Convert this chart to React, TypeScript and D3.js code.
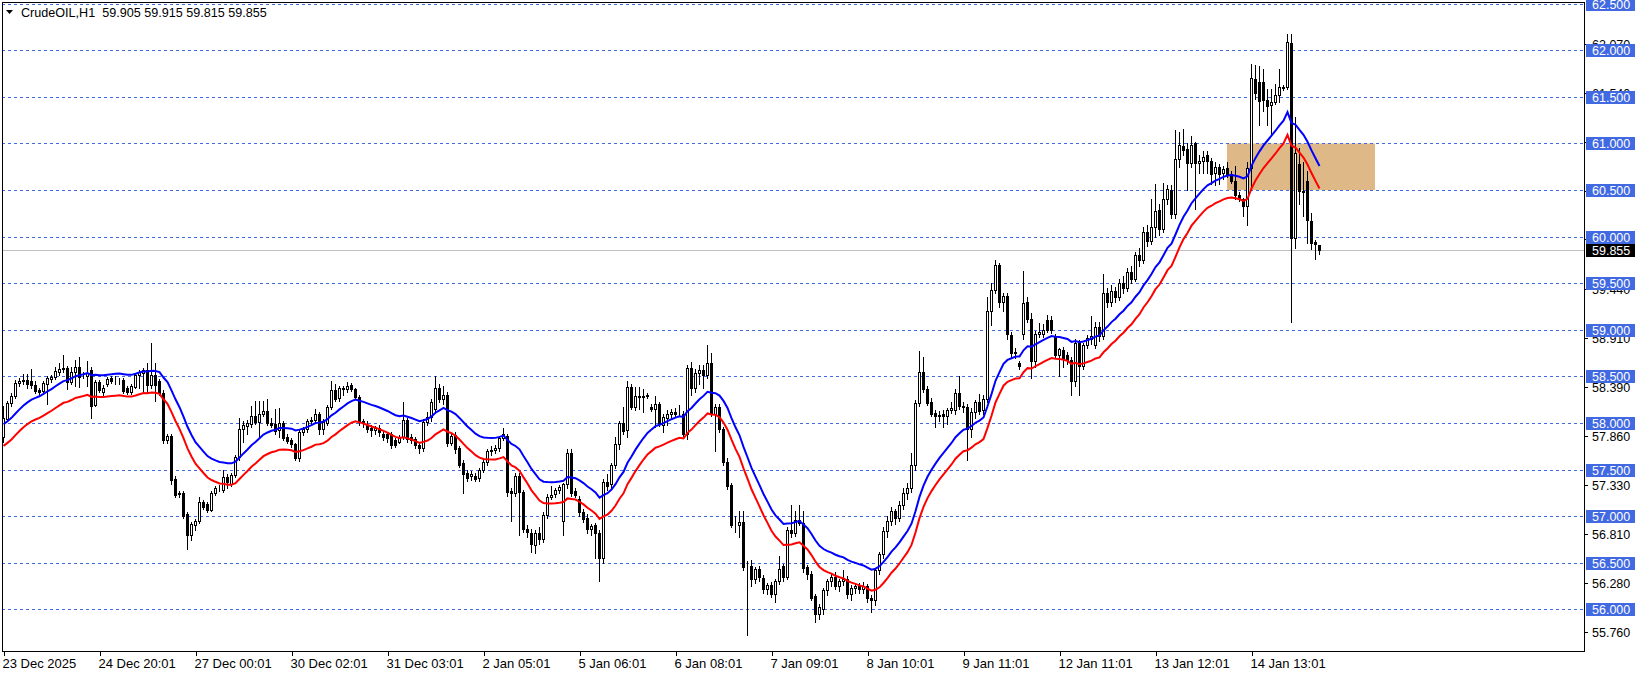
import React from "react";
import * as d3 from "d3";

type C = [number, number, number, number]; // open, high, low, close

const candlesDec23: C[] = [
  [57.85,58.18,57.80,58.05],[58.04,58.24,58.02,58.21],[58.21,58.32,58.18,58.29],[58.29,58.46,58.27,58.43],
  [58.43,58.48,58.40,58.45],[58.45,58.53,58.42,58.46],[58.46,58.53,58.38,58.42],[58.45,58.58,58.38,58.41],
  [58.41,58.45,58.32,58.34],[58.35,58.38,58.30,58.33],[58.34,58.45,58.31,58.43],[58.42,58.50,58.20,58.48],
  [58.47,58.52,58.44,58.49],[58.49,58.60,58.47,58.56],[58.55,58.64,58.52,58.58],[58.58,58.73,58.55,58.59],
  [58.59,58.61,58.36,58.44],[58.44,58.60,58.42,58.55],[58.55,58.68,58.40,58.60],[58.60,58.71,58.39,58.49],
  [58.52,58.55,58.48,58.51],[58.50,58.67,58.40,58.54],[58.57,58.60,58.05,58.18],[58.19,58.46,58.18,58.44],
  [58.44,58.46,58.33,58.35],[58.33,58.41,58.30,58.38],[58.42,58.49,58.40,58.47],[58.48,58.50,58.43,58.45],
  [58.45,58.50,58.42,58.45],[58.45,58.48,58.42,58.45],[58.46,58.48,58.32,58.34],[58.38,58.40,58.31,58.33],
  [58.33,58.42,58.31,58.40],[58.39,58.54,58.37,58.52],[58.52,58.57,58.38,58.55],[58.54,58.59,58.32,58.57],
  [58.57,58.64,58.32,58.41],[58.41,58.86,58.38,58.52],[58.52,58.64,58.24,58.41],[58.45,58.47,58.30,58.32],
  [58.32,58.35,57.79,57.82],[57.82,57.88,57.78,57.86],[57.86,57.88,57.35,57.39],[57.40,57.43,57.20,57.23],
  [57.24,57.27,57.21,57.25],[57.25,57.27,56.98,57.00],[57.02,57.04,56.65,56.80],[56.80,56.94,56.74,56.92],
  [56.90,56.97,56.85,56.95],[56.95,57.20,56.93,57.15],[57.15,57.17,57.08,57.10],[57.13,57.15,57.04,57.07],
  [57.07,57.27,57.05,57.25],[57.25,57.32,57.23,57.30],[57.30,57.33,57.27,57.30],[57.28,57.50,57.26,57.42],
];

const candlesDec29: C[] = [
  [57.42,57.45,57.30,57.37],[57.35,57.46,57.32,57.44],[57.44,57.66,57.42,57.63],[57.63,58.05,57.60,57.94],
  [57.94,58.02,57.80,57.98],[57.97,58.03,57.88,58.00],[57.99,58.18,57.96,58.08],[58.08,58.24,57.99,58.01],
  [58.01,58.24,57.85,58.10],[58.10,58.24,58.08,58.13],[58.13,58.26,57.98,58.00],[58.00,58.05,57.96,57.98],
  [57.99,58.15,57.88,57.91],[57.92,58.16,57.85,58.00],[58.00,58.02,57.82,57.84],[57.85,57.88,57.78,57.81],
  [57.82,57.84,57.74,57.77],[57.77,57.79,57.60,57.62],[57.62,57.94,57.59,57.90],[57.90,57.96,57.87,57.93],
  [57.93,58.04,57.90,58.02],[58.02,58.06,57.99,58.03],[58.03,58.15,58.00,58.10],[58.10,58.12,57.88,57.93],
  [57.93,58.04,57.88,58.01],[58.00,58.19,57.98,58.17],[58.17,58.45,58.15,58.35],[58.35,58.42,58.24,58.26],
  [58.27,58.40,58.24,58.37],[58.37,58.40,58.30,58.36],[58.36,58.44,58.33,58.40],[58.41,58.43,58.34,58.36],
  [58.36,58.38,58.26,58.28],[58.28,58.30,57.98,58.01],[58.02,58.04,57.96,58.00],[57.98,58.02,57.90,57.94],
  [57.95,57.98,57.86,57.92],[57.92,57.97,57.88,57.95],[57.95,57.98,57.86,57.90],[57.88,57.91,57.82,57.85],
  [57.88,57.90,57.80,57.84],[57.88,57.90,57.73,57.76],[57.82,57.84,57.74,57.76],[57.80,57.87,57.78,57.85],
  [57.85,58.23,57.83,58.03],[58.03,58.05,57.80,57.83],[57.85,57.88,57.78,57.82],[57.83,57.85,57.73,57.76],
  [57.76,57.78,57.68,57.73],[57.73,58.04,57.70,58.01],[58.01,58.12,57.98,58.06],[58.06,58.26,58.02,58.22],
  [58.15,58.50,58.12,58.37],[58.37,58.42,58.22,58.26],
];

const candlesJan2: C[] = [
  [58.26,58.40,58.20,58.30],[58.30,58.33,57.75,57.79],[57.79,57.89,57.76,57.86],[57.87,57.90,57.68,57.72],
  [57.73,57.75,57.53,57.55],[57.57,57.60,57.25,57.45],[57.46,57.49,57.38,57.41],[57.43,57.48,57.39,57.45],
  [57.43,57.46,57.38,57.40],[57.41,57.52,57.38,57.50],[57.50,57.60,57.47,57.58],[57.58,57.72,57.55,57.70],
  [57.70,57.75,57.66,57.71],[57.71,57.76,57.68,57.73],[57.73,57.86,57.70,57.84],[57.84,57.95,57.82,57.88],
  [57.86,57.88,57.22,57.26],[57.27,57.30,56.95,57.25],[57.25,57.46,57.22,57.43],[57.43,57.46,56.80,57.26],
  [57.26,57.28,56.83,56.86],[56.86,56.90,56.78,56.83],[56.82,56.86,56.62,56.70],[56.69,56.85,56.60,56.82],
  [56.82,56.88,56.70,56.75],[56.75,57.04,56.72,57.01],[57.01,57.24,56.98,57.21],[57.20,57.32,57.18,57.23],
  [57.24,57.30,57.20,57.28],[57.28,57.33,57.25,57.31],[56.95,57.36,56.80,57.34],[57.34,57.72,57.30,57.68],
  [57.68,57.72,57.22,57.25],[57.27,57.30,57.20,57.23],[57.18,57.22,57.00,57.04],[57.04,57.08,56.94,56.97],
  [56.98,57.02,56.82,56.86],[56.86,56.92,56.80,56.89],[56.90,56.93,56.55,56.82],[56.82,56.85,56.30,56.55],
  [56.55,57.40,56.50,57.37],[57.37,57.45,57.28,57.32],[57.35,57.57,57.30,57.55],[57.55,57.85,57.52,57.77],
  [57.77,58.02,57.72,58.00],[58.00,58.17,57.88,57.91],[57.92,58.45,57.85,58.39],[58.39,58.42,58.15,58.17],
  [58.17,58.39,58.14,58.29],[58.29,58.39,58.15,58.28],[58.28,58.36,58.12,58.29],[58.29,58.32,58.27,58.30],
  [58.17,58.20,58.13,58.15],[58.15,58.29,57.96,58.20],[58.20,58.22,57.97,58.00],[57.98,58.10,57.90,58.06],
];

const candlesJan6: C[] = [
  [58.05,58.14,57.98,58.10],[58.10,58.15,58.05,58.12],[58.12,58.16,58.06,58.10],[58.10,58.19,58.07,58.10],
  [58.10,58.13,57.86,57.88],[57.88,58.62,57.83,58.59],[58.59,58.65,58.30,58.38],[58.38,58.58,58.33,58.54],
  [58.54,58.62,58.42,58.57],[58.57,58.62,58.38,58.52],[58.52,58.84,58.48,58.64],[58.64,58.75,58.08,58.10],
  [58.10,58.20,57.70,58.17],[58.17,58.20,57.90,57.93],[57.93,57.96,57.55,57.58],[57.58,57.62,57.29,57.32],
  [57.33,57.36,56.88,56.91],[56.91,57.00,56.83,56.90],[56.90,57.05,56.78,56.94],[56.94,57.05,56.42,56.45],
  [56.46,56.52,55.72,56.46],[56.46,56.53,56.25,56.32],[56.32,56.45,56.28,56.43],[56.43,56.46,56.30,56.35],
  [56.34,56.37,56.18,56.22],[56.22,56.28,56.16,56.26],[56.26,56.29,56.13,56.16],[56.16,56.32,56.08,56.30],
  [56.30,56.57,56.27,56.43],[56.46,56.49,56.30,56.35],[56.35,56.88,56.32,56.85],[56.85,57.12,56.78,56.82],
  [56.82,57.05,56.79,56.96],[56.96,57.12,56.90,56.93],[56.93,57.05,56.40,56.44],[56.45,56.48,56.32,56.38],
  [56.38,56.41,56.10,56.12],[56.14,56.16,55.86,55.95],[55.95,56.06,55.90,56.03],[56.00,56.23,55.95,56.21],
  [56.21,56.33,56.15,56.30],[56.30,56.38,56.25,56.35],[56.35,56.40,56.22,56.25],[56.25,56.32,56.20,56.30],
  [56.30,56.42,56.26,56.33],[56.33,56.36,56.12,56.16],[56.16,56.26,56.10,56.23],[56.23,56.28,56.18,56.25],
  [56.25,56.28,56.17,56.22],[56.22,56.29,56.18,56.25],[56.25,56.27,56.08,56.12],[56.12,56.15,55.97,56.10],
  [56.10,56.44,56.05,56.42],[56.42,56.62,56.38,56.59],[56.59,56.88,56.55,56.84],
];

const candlesJan8: C[] = [
  [56.84,57.00,56.78,56.95],[56.95,57.10,56.90,57.05],[57.05,57.08,56.92,56.98],[56.98,57.16,56.95,57.12],
  [57.12,57.30,57.08,57.25],[57.25,57.36,57.18,57.30],[57.30,57.68,57.26,57.55],[57.55,58.25,57.50,58.21],
  [58.21,58.77,58.18,58.55],[58.55,58.71,58.33,58.36],[58.36,58.40,58.19,58.21],[58.22,58.27,58.08,58.10],
  [58.11,58.14,57.96,58.07],[58.07,58.13,58.02,58.09],[58.10,58.14,57.96,58.07],[58.07,58.16,57.99,58.14],
  [58.14,58.23,58.11,58.16],[58.14,58.36,58.10,58.32],[58.32,58.50,58.15,58.18],[58.18,58.22,58.12,58.17],
  [58.17,58.20,57.60,57.93],[57.93,58.16,57.85,58.12],[58.12,58.25,58.05,58.22],[58.22,58.31,58.10,58.13],
  [58.14,58.30,58.10,58.26],[58.26,59.35,58.22,59.20],[59.20,59.50,59.05,59.43],[59.43,59.75,59.40,59.70],
  [59.70,59.72,59.25,59.30],[59.30,59.40,59.20,59.36],[59.36,59.40,58.90,58.96],[58.94,58.98,58.70,58.75],
  [58.75,58.80,58.70,58.76],[58.64,58.66,58.58,58.61],[58.96,59.63,58.90,59.29],[59.30,59.35,59.08,59.12],
  [59.12,59.18,58.48,58.66],[58.66,58.99,58.60,58.96],[58.96,59.07,58.92,58.98],[58.96,59.06,58.92,59.00],
  [59.10,59.16,58.98,59.00],[59.11,59.15,58.97,59.00],[58.93,58.96,58.70,58.73],[58.73,58.80,58.50,58.79],
  [58.78,58.82,58.60,58.70],[58.73,58.76,58.63,58.68],[58.68,58.71,58.30,58.45],[58.45,58.90,58.40,58.86],
  [58.86,58.89,58.30,58.61],[58.61,58.86,58.58,58.84],[58.84,58.94,58.80,58.91],[58.90,59.15,58.85,58.93],
  [58.84,59.08,58.80,59.03],[59.03,59.08,58.88,58.93],[58.93,59.60,58.90,59.40],
];

const candlesJan13: C[] = [
  [59.40,59.45,59.25,59.30],[59.30,59.48,59.26,59.42],[59.42,59.46,59.30,59.35],[59.35,59.55,59.32,59.50],
  [59.50,59.58,59.40,59.45],[59.45,59.66,59.42,59.62],[59.62,59.68,59.50,59.55],[59.55,59.84,59.52,59.80],
  [59.80,59.88,59.68,59.75],[59.75,60.10,59.72,60.05],[60.05,60.12,59.90,59.95],[59.95,60.40,59.92,60.10],
  [60.10,60.57,60.00,60.27],[60.29,60.35,60.02,60.08],[60.08,60.58,60.05,60.40],[60.40,60.55,60.35,60.51],
  [60.50,60.55,60.20,60.24],[60.24,61.14,60.20,60.83],[60.83,61.12,60.75,60.98],[60.97,61.16,60.88,60.93],
  [60.94,61.00,60.50,60.79],[60.79,61.08,60.75,60.98],[61.00,61.02,60.30,60.79],[60.79,60.88,60.68,60.81],
  [60.81,60.92,60.68,60.86],[60.88,60.92,60.68,60.81],[60.81,60.84,60.56,60.67],[60.68,60.80,60.55,60.75],
  [60.75,60.78,60.57,60.67],[60.68,60.76,60.62,60.73],[60.74,60.80,60.64,60.67],[60.67,60.70,60.58,60.60],
  [60.60,60.76,60.40,60.45],[60.45,60.48,60.38,60.42],[60.40,60.42,60.22,60.33],[60.33,60.80,60.13,60.74],
  [60.74,61.85,60.50,61.70],[61.69,61.84,61.48,61.54],[61.66,61.83,61.20,61.46],[61.66,61.80,61.35,61.47],
  [61.47,61.58,61.20,61.40],[61.41,61.58,61.10,61.45],[61.45,61.64,61.42,61.52],[61.52,61.80,61.45,61.61],
  [61.60,61.63,61.57,61.61],[61.61,62.17,61.58,62.09],[62.08,62.17,59.08,59.99],[59.98,61.28,59.88,60.90],
  [60.78,60.95,60.35,60.49],[60.49,60.80,60.22,60.48],[60.60,60.70,59.93,60.18],[60.17,60.25,59.87,59.93],
  [59.94,59.96,59.76,59.92],[59.905,59.915,59.815,59.855],
];

const candles: C[] = [
  ...candlesDec23, ...candlesDec29, ...candlesJan2, ...candlesJan6, ...candlesJan8, ...candlesJan13,
];

const timeLabels = [
  "23 Dec 2025", "24 Dec 20:01", "27 Dec 00:01", "30 Dec 02:01", "31 Dec 03:01", "2 Jan 05:01",
  "5 Jan 06:01", "6 Jan 08:01", "7 Jan 09:01", "8 Jan 10:01", "9 Jan 11:01", "12 Jan 11:01",
  "13 Jan 12:01", "14 Jan 13:01",
];
const labelEvery = 24;

const gridLevels = [62.5, 62.0, 61.5, 61.0, 60.5, 60.0, 59.5, 59.0, 58.5, 58.0, 57.5, 57.0, 56.5, 56.0];
const scaleTicks = ["62.070", "61.540", "61.020", "60.490", "59.970", "59.440", "58.910", "58.390", "57.860", "57.330", "56.810", "56.280", "55.760"];
const bidPrice = 59.855;
const zone = { fromBar: 306, toBar: 343, top: 61.0, bottom: 60.5 };
// Envelopes indicator: EMA(close) +/- deviation %
const maPeriod = 20;
const maSeed = 57.87;
const envDeviation = 0.2; // percent
const title = "CrudeOIL,H1  59.905 59.915 59.815 59.855";

function ema(values: number[], period: number, seed: number) {
  const a = 2 / (period + 1);
  let e = seed;
  return values.map((v, i) => {
    if (i > 0) e = e + a * (v - e);
    return e;
  });
}

const W = 1641, H = 675;
const plotL = 2, plotR = 1584, plotT = 2, plotB = 651;
const GRID = "#4169E1";
const FONT = "'Liberation Sans', Arial, sans-serif";

export default function App() {
  const x = d3.scaleLinear().domain([0, 1]).range([3.5, 7.5]);
  const y = d3.scaleLinear().domain([56, 62]).range([609.3, 50.3]);

  const mid = ema(candles.map((c) => c[3]), maPeriod, maSeed);
  const blue = mid.map((m) => m * (1 + envDeviation / 100));
  const red = mid.map((m) => m * (1 - envDeviation / 100));
  const line = d3.line<number>().x((_, i) => x(i)).y((v) => y(v));

  return (
    <svg width={W} height={H} style={{ position: "absolute", left: 0, top: 0, background: "#fff" }}
      fontFamily={FONT}>
      <rect x={0} y={0} width={W} height={H} fill="#fff" />
      <clipPath id="plot">
        <rect x={plotL} y={plotT} width={plotR - plotL} height={plotB - plotT} />
      </clipPath>

      {/* zone */}
      <rect x={x(zone.fromBar) - 0.5} y={y(zone.top)} width={x(zone.toBar) - x(zone.fromBar)}
        height={y(zone.bottom) - y(zone.top)} fill="#DEB887" />

      {/* grid dashed lines */}
      {gridLevels.map((g) => {
        const yy = Math.round(y(g)) + 0.5;
        return <line key={g} x1={plotL} x2={plotR + 3} y1={yy} y2={yy} stroke={GRID} strokeWidth={1} strokeDasharray="3,3" />;
      })}

      {/* bid line */}
      <line x1={plotL} x2={plotR} y1={Math.round(y(bidPrice)) + 0.5} y2={Math.round(y(bidPrice)) + 0.5} stroke="#C0C0C0" strokeWidth={1} />

      <g clipPath="url(#plot)">
        {candles.map((c, i) => {
          const [o, h, l, cl] = c;
          const xc = x(i);
          const top = Math.round(y(Math.max(o, cl)));
          const bot = Math.round(y(Math.min(o, cl)));
          const bull = cl >= o;
          return (
            <g key={i}>
              <line x1={xc} x2={xc} y1={Math.round(y(h))} y2={Math.round(y(l)) + 1} stroke="#000" strokeWidth={1} />
              <rect x={xc - 1} y={top + 0.5} width={2} height={Math.max(bot - top, 0)}
                fill={bull ? "#fff" : "#000"} stroke="#000" strokeWidth={1} />
            </g>
          );
        })}
        <path d={line(blue) || ""} fill="none" stroke="#0000FF" strokeWidth={2} />
        <path d={line(red) || ""} fill="none" stroke="#FF0000" strokeWidth={2} />
      </g>

      {/* frame */}
      <rect x={plotL + 0.5} y={plotT + 0.5} width={plotR - plotL} height={plotB - plotT} fill="none" stroke="#000" strokeWidth={1} />

      {/* price scale ticks */}
      {scaleTicks.map((t) => {
        const yy = Math.round(y(+t)) + 0.5;
        return (
          <g key={t}>
            <line x1={plotR} x2={plotR + 4} y1={yy} y2={yy} stroke="#000" />
            <text x={1592} y={yy + 4.5} fontSize={12.5} fill="#000">{t}</text>
          </g>
        );
      })}
      {gridLevels.map((g) => {
        const yy = Math.round(y(g));
        return (
          <g key={"b" + g}>
            <rect x={1586} y={yy - 6} width={49} height={13} fill={GRID} />
            <text x={1592} y={yy + 5} fontSize={12.5} fill="#fff">{g.toFixed(3)}</text>
          </g>
        );
      })}
      {(() => {
        const yy = Math.round(y(bidPrice));
        return (
          <g>
            <rect x={1586} y={yy - 6} width={49} height={13} fill="#000" />
            <text x={1592} y={yy + 5} fontSize={12.5} fill="#fff">{bidPrice.toFixed(3)}</text>
          </g>
        );
      })()}

      {/* time axis */}
      {timeLabels.map((t, k) => {
        const xx = Math.round(x(k * labelEvery)) + 0.5;
        return (
          <g key={t}>
            <line x1={xx} x2={xx} y1={plotB} y2={plotB + 5} stroke="#000" />
            <text x={xx - 2} y={667.5} fontSize={13} fill="#000">{t}</text>
          </g>
        );
      })}

      {/* title */}
      <path d="M6,10 L13,10 L9.5,14 Z" fill="#000" />
      <text x={21} y={17} fontSize={12.6} fill="#000" style={{ whiteSpace: "pre" }}>{title}</text>
    </svg>
  );
}
